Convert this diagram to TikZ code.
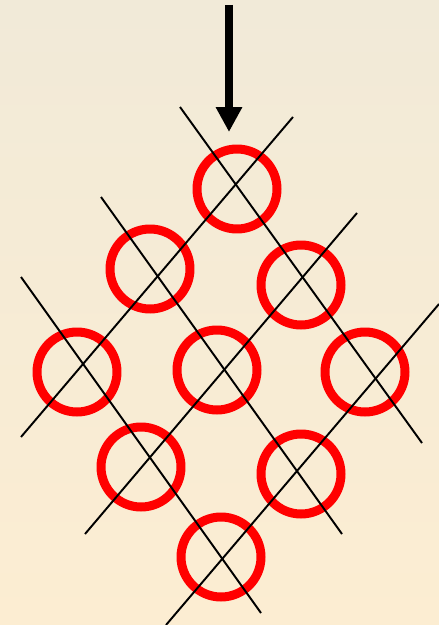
\documentclass[tikz,border=0pt]{standalone}
\definecolor{fondoArriba}{HTML}{F1EAD8}
\definecolor{fondoAbajo}{HTML}{FCEDD2}
\definecolor{anilloRojo}{HTML}{FF0000}
\usepackage{tikz}
\usetikzlibrary{
	arrows.meta
}

\begin{document}
\begin{tikzpicture}[x=0.02cm, y=-0.02cm,
		anillo/.style={circle, draw=anilloRojo, line width=0.18cm, minimum size=1.6cm, inner sep=0pt, outer sep=0pt},
		recta/.style={black, line width=1.1pt}]
		
		% Fondo
		\shade[top color=fondoArriba, bottom color=fondoAbajo] (0,0) rectangle (439,625);
		\useasboundingbox (0,0) rectangle (439,625);
		
		% Anillos rojos
		\foreach \nombre/\x/\y in {ani1/237/189, ani2/150/269, ani3/301/285, ani4/77/372, ani5/217/370, ani6/365/372, ani7/141/467, ani8/301/474, ani9/221/557}{
			\node[anillo] (\nombre) at (\x,\y) {};
		}
		
		% Extremos de las rectas
		\coordinate (baja1ini) at (180,107);
		\coordinate (baja1fin) at (422,443);
		\coordinate (baja2ini) at (101,197);
		\coordinate (baja2fin) at (342,534);
		\coordinate (baja3ini) at (21,277);
		\coordinate (baja3fin) at (261,613);
		\coordinate (sube1ini) at (21,437);
		\coordinate (sube1fin) at (293,117);
		\coordinate (sube2ini) at (85,534);
		\coordinate (sube2fin) at (357,213);
		\coordinate (sube3ini) at (166,625);
		\coordinate (sube3fin) at (439,304);
		
		% Rectas
		\foreach \r in {baja1,baja2,baja3,sube1,sube2,sube3}{
			\draw[recta] (\r ini) -- (\r fin);
		}
		
		% Flecha de entrada
		\coordinate (flechaIni) at (229,5);
		\coordinate (flechaFin) at (229,132);
		\draw[-{Triangle[width=0.5cm, length=0.5cm]}, line width=0.16cm] 
			(flechaIni) -- (flechaFin);
		
	\end{tikzpicture}
\end{document}
